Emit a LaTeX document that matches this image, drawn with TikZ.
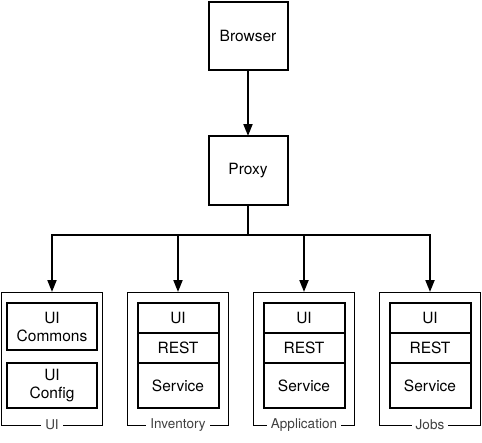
\documentclass[tikz,border=0pt]{standalone}
\usepackage{fontspec}
\setmainfont{TeX Gyre Heros}
\usetikzlibrary{positioning,arrows.meta}
\begin{document}
\begin{tikzpicture}[x=1pt,y=-1pt,
    box/.style={draw, line width=2pt, outer sep=0pt, align=center,
      font=\fontsize{15.5}{18}\selectfont},
    frame/.style={draw, line width=1pt, outer sep=0pt,
      minimum width=101pt, minimum height=133pt},
    tag/.style={fill=white, inner xsep=4pt, inner ysep=1pt, text=black!75,
      font=\fontsize{13.5}{15}\selectfont},
    arr/.style={line width=2pt, -{Triangle[width=9pt,length=12pt]}}]
  \useasboundingbox (0,0) rectangle (482,442);

  % Browser and proxy
  \node[box, minimum width=79pt, minimum height=68pt] (browser) at (248,36) {Browser};
  \node[box, minimum width=79pt, minimum height=69pt] (proxy) at (248,170.5) {Proxy};
  \draw[arr] (browser) -- (proxy);
  \coordinate (bus) at ([yshift=-30pt]proxy.south);
  \draw[line width=2pt] (proxy) -- (bus);

  % UI module
  \node[frame] (ui) at (52,358.5) {};
  \node[tag] (ui-tag) at (ui.south) {UI};
  \node[box, minimum width=90pt, minimum height=47pt] (commons) at (52,326.5) {UI\\Commons};
  \node[box, minimum width=90pt, minimum height=45pt] (config) at (52,385.5) {UI\\Config};
  \draw[arr] (bus) -| (ui.north);

  % Service modules
  \foreach \name/\x/\txt in {inv/178/Inventory, app/304/Application, jobs/430/Jobs} {
    \node[frame] (\name) at (\x,358.5) {};
    \node[tag] (\name-tag) at (\name.south) {\txt};
    \node[box, minimum width=81pt, minimum height=30pt] (\name-ui) at (\x,318) {UI};
    \node[box, minimum width=81pt, minimum height=30pt, below=0pt of \name-ui] (\name-rest) {REST};
    \node[box, minimum width=81pt, minimum height=45pt, below=0pt of \name-rest] (\name-svc) {Service};
    \draw[arr] (bus) -| (\name.north);
  }
\end{tikzpicture}
\end{document}
